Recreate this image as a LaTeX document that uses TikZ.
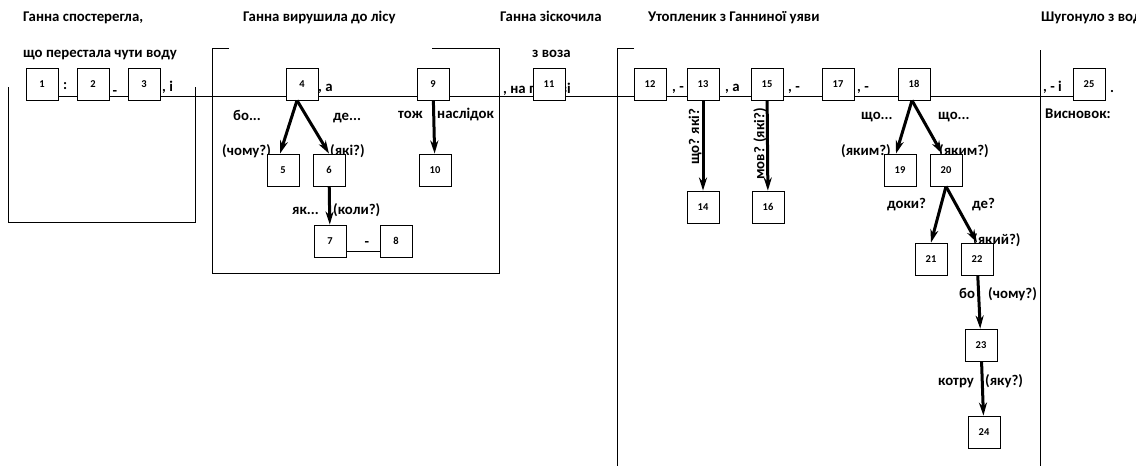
\documentclass[tikz,border=0pt]{standalone}
\usepackage{fontspec}
\setmainfont{Carlito}
\usetikzlibrary{arrows.meta,backgrounds}

\begin{document}
\begin{tikzpicture}[
    x=1pt, y=-1pt,
    every node/.style={font=\bfseries},
    box/.style={draw, fill=white, line width=0.8pt, minimum width=32pt,
        minimum height=32pt, inner sep=0pt, font=\fontsize{10.5}{10.5}\selectfont\bfseries},
    txt/.style={inner sep=0pt, font=\fontsize{14.8}{14.8}\selectfont\bfseries},
    lbl/.style={txt, anchor=base west},
    arr/.style={line width=3pt, -{Stealth[length=13pt,width=8pt,inset=4pt]}}
]
\useasboundingbox (0,0) rectangle (1136,466);
\clip (0,0) rectangle (1136,466);

% Headers
\node[lbl] (h1) at (23,21) {Ганна спостерегла,};
\node[lbl] (h1b) at (23,57) {що перестала чути воду};
\node[lbl] (h2) at (243,21) {Ганна вирушила до лісу};
\node[lbl] (h3) at (500,21) {Ганна зіскочила};
\node[lbl] (h3b) at (532,57) {з воза};
\node[lbl] (h4) at (648,21) {Утопленик з Ганниної уяви};
\node[lbl] (h5) at (1041,21) {Шугонуло з води};

% Frames
\draw[line width=0.8pt] (8,87) -- (8,222) -- (195,222) -- (195,87);
\draw[line width=0.8pt] (229,48) -- (212,48) -- (212,273) -- (499,273) -- (499,48) -- (432,48);
\draw[line width=0.8pt] (634,48) -- (617,48) -- (617,466);
\draw[line width=0.8pt] (1040,50) -- (1040,466);

% Signs on the line
\node[lbl] (p1) at (63,89) {:};
\node[txt] (p2) at (115,93) {-};
\node[lbl] (p3) at (162,91) {, і};
\node[lbl] (p4) at (318,91) {, а};
\node[lbl] (p11) at (503,93) {, на порозі};
\node[lbl] (p12) at (672,91) {, -};
\node[lbl] (p13) at (725,91) {, а};
\node[lbl] (p15) at (788,91) {, -};
\node[lbl] (p17) at (857,91) {, -};
\node[lbl] (p18) at (1043,91) {, - і};
\node[lbl] (p25) at (1110,92) {.};
\node[lbl] (conc) at (1045,118) {Висновок:};

% Questions
\node[lbl] (q1) at (233,120) {бо...};
\node[lbl] (q2) at (333,120) {де...};
\node[lbl] (q3) at (222,155) {(чому?)};
\node[lbl] (q4) at (330,155) {(які?)};
\node[lbl] (q5) at (292,214) {як...};
\node[lbl] (q6) at (333,214) {(коли?)};
\node[lbl] (q7) at (398,118) {тож};
\node[lbl] (q8) at (437,118) {наслідок};
\node[txt, rotate=90] (q9) at (695,137) {що? які?};
\node[txt, rotate=90] (q10) at (760,144) {мов? (які?)};
\node[lbl] (q11) at (861,119) {що...};
\node[lbl] (q12) at (938,119) {що...};
\node[lbl] (q13) at (841,155) {(яким?)};
\node[lbl] (q14) at (939,155) {(яким?)};
\node[lbl] (q15) at (887,208) {доки?};
\node[lbl] (q16) at (972,208) {де?};
\node[lbl] (q17) at (973,244) {(який?)};
\node[lbl] (q18) at (959,298) {бо};
\node[lbl] (q19) at (988,298) {(чому?)};
\node[lbl] (q20) at (938,385) {котру};
\node[lbl] (q21) at (985,385) {(яку?)};

% Top row
\node[box] (b1) at (42,84) {1};
\node[box] (b2) at (93,84) {2};
\node[box] (b3) at (144,84) {3};
\node[box] (b4) at (302,84) {4};
\node[box] (b9) at (433,84) {9};
\node[box] (b11) at (549,84) {11};
\node[box] (b12) at (650,84) {12};
\node[box] (b13) at (703,84) {13};
\node[box] (b15) at (767,84) {15};
\node[box] (b17) at (838,84) {17};
\node[box] (b18) at (914,84) {18};
\node[box] (b25) at (1089,84) {25};

% Level 1
\node[box] (b5) at (283,170) {5};
\node[box] (b6) at (329,170) {6};
\node[box] (b10) at (435,170) {10};
\node[box] (b14) at (703,207) {14};
\node[box] (b16) at (768,207) {16};
\node[box] (b19) at (900,170) {19};
\node[box] (b20) at (946,170) {20};

% Level 2
\node[box] (b7) at (330,241) {7};
\node[box] (b8) at (396,241) {8};
\node[txt] (p7) at (367,244) {-};
\node[box] (b21) at (931,259) {21};
\node[box] (b22) at (977,259) {22};

% Level 3
\node[box] (b23) at (981,345) {23};
\node[box] (b24) at (984,432) {24};

% Main line
\begin{scope}[on background layer]
\draw[line width=0.8pt] ([yshift=4pt]b1.south east) -- ([yshift=4pt]b25.south west);
\draw[line width=0.8pt] ([yshift=6pt]b7.south east) -- ([yshift=6pt]b8.south west);
\end{scope}

% Edges
\draw[arr] ([xshift=-5pt]b4.south) -- ([xshift=-3pt]b5.north);
\draw[arr] ([xshift=-5pt]b4.south) -- (b6.north);
\draw[arr] (b6) -- (b7);
\draw[arr] (b9) -- (b10);
\draw[arr] (b13) -- (b14);
\draw[arr] (b15) -- (b16);
\draw[arr] ([xshift=-2pt]b18.south) -- ([xshift=-4pt]b19.north);
\draw[arr] ([xshift=-2pt]b18.south) -- ([xshift=-4pt]b20.north);
\draw[arr] (b20.south) -- (b21.north);
\draw[arr] (b20.south) -- (b22.north);
\draw[arr] (b22) -- (b23);
\draw[arr] (b23) -- (b24);

\end{tikzpicture}
\end{document}
